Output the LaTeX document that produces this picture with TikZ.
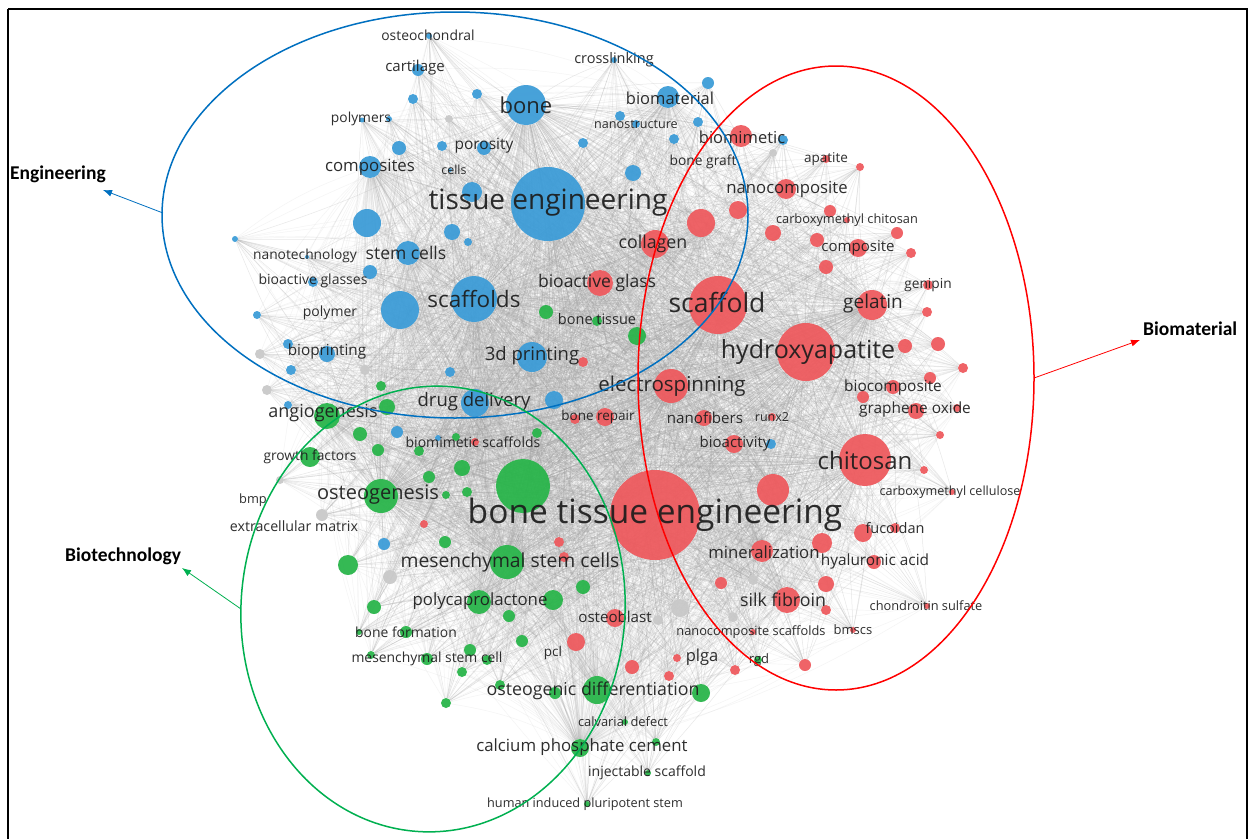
\documentclass[tikz,border=0pt]{standalone}
\usepackage{fontspec}
\setmainfont{Open Sans}
\newfontfamily\headfont{Carlito}
\usetikzlibrary{arrows.meta}
\pgfdeclarelayer{edges}
\pgfsetlayers{edges,main}
\definecolor{cb}{RGB}{58,155,215}
\definecolor{cr}{RGB}{238,88,92}
\definecolor{cg}{RGB}{38,180,72}
\definecolor{ck}{RGB}{200,200,200}
\definecolor{eblue}{RGB}{0,112,192}
\definecolor{ered}{RGB}{255,0,0}
\definecolor{egreen}{RGB}{0,176,80}
\definecolor{labtxt}{RGB}{28,28,28}
\definecolor{edgecol}{RGB}{165,165,165}
\tikzset{
  dot/.style={circle, inner sep=0pt, draw=none, fill opacity=0.93},
  lab/.style={inner sep=0pt, text=labtxt, text opacity=0.92},
  edge/.style={draw=edgecol, line width=0.5pt, opacity=0.26},
  edgelight/.style={draw=edgecol, line width=0.45pt, opacity=0.13},
  clusterline/.style={line width=1.5pt},
  heading/.style={inner sep=0pt, font=\headfont\bfseries\fontsize{19.5}{19.5}\selectfont, anchor=west},
  pointer/.style={line width=0.8pt, -{Latex[length=9pt,width=7pt]}}
}
\def\hublist{bte/655/515/45/r, te/548/204/37/b, scaffold/718/305/29/r, hap/806/352/29/r, chitosan/865/460/26/r, bigg/523/486/27/g, scaffolds/474/299/23/b, bone/526/105/20/b, elec/671/386/17/r, mscs/507/562/17/g, osteogenesis/381/496/17/g, gelatin/872/305/15/r}
\def\dotlist{d400/400/310/19/b, d367/367/223/14/b, stemcells/408/253/12/b, composites/370/167/11/b, biomaterial/668/97/11/b, cartilage/418/70/6/b, osteochondral/429/36/3/b, d413/413/99/5/b, d477/477/94/5/b, polymers/389/119/3/b, pol2/362/120/2.5/b, gk449/449/119/4/k, d399/399/148/7/b, d442/442/146/5/b, porosity/484/148/7/b, cells/450/170/2/b, d472/472/192/10/b, d583/583/143/5/b, crosslinking/614/60/3/b, d708/708/83/6/b, d620/620/116/5/b, nanostructure/636/124/4/b, d698/698/122/5/b, d674/674/139/5/b, d633/633/173/8/b, bmblue/783/140/5/b, d452/452/232/8/b, d468/468/242/4/b, d235/235/239/3/b, nanotech/307/257/2/b, d370/370/272/7/b, bioglasses/313/282/5/b, d257/257/315/4/b, d288/288/344/5/b, bioprinting/327/354/8/b, d291/291/370/5/b, d450b/450/372/5/b, printing/532/357/15/b, drug/475/403/14/b, d554/554/400/9/b, d288b/288/405/4/b, d397/397/432/6/b, d438/438/438/3/b, bioactblue/771/444/5/b, d384/384/544/6/b,
gk260/260/354/5/k, gk365/365/370/5/k, gk267/267/390/5/k, gk280/280/480/4/k, gk322/322/515/6/k, gk390/390/577/7/k, gk680/680/608/9/k, gk733/733/617/5/k, gk658/658/620/5/k, gk753/753/580/5/k, gk773/773/153/4/k,
angio/327/416/13/g, growth/310/457/10/g, poly/479/602/12/g, g553/553/600/10/g, g583/583/587/7/g, odiff/597/690/14/g, g701/701/693/9/g, cpc/580/748/9/g, g637/637/336/9/g, g546/546/312/7/g, bonetissue/597/321/5/g, g381/381/386/5/g, g387/387/407/8/g, g360/360/434/7/g, g456/456/437/4/g, g537/537/433/5/g, g378/378/450/6/g, g419/419/451/5/g, g462/462/468/8/g, g429/429/477/6/g, g467/467/492/5/g, g446/446/495/4/g, g445/445/542/6/g, g348/348/565/10/g, g374/374/607/7/g, g509/509/616/6/g, boneform/406/632/6/g, bf2/359/632/3/g, g522/522/641/6/g, msc/427/659/6/g, g470/470/650/6/g, g487/487/660/5/g, g371/371/655/4/g, g462b/462/672/5/g, g555/555/693/6/g, g500/500/685/5/g, g446b/446/703/5/g, calv/625/722/3/g, g656/656/742/4/g, inject/648/773/3/g, hips/587/804/3/g, rgd/758/660/4/g,
collagen/655/244/14/r, bioglass/600/283/13/r, r701/701/223/14/r, r738/738/210/9/r, biomimetic/741/136/11/r, apatite/826/159/4/r, r860/860/167/4/r, nanocomp/786/189/10/r, r830/830/211/6/r, cmc/847/220/3/r, r773/773/233/8/r, r897/897/233/6/r, r817/817/240/7/r, composite/858/248/9/r, r911/911/253/5/r, r826/826/267/7/r, genipin/928/285/5/r, r927/927/312/5/r, r905/905/346/7/r, r938/938/344/7/r, r963/963/368/5/r, r930/930/378/6/r, biocomp/893/387/7/r, r863/863/397/6/r, graphene/916/411/8/r, r957/957/408/4/r, r940/940/435/4/r, r924/924/470/4/r, cmcell/952/492/3/r, r583/583/362/5/r, bonerepair/605/417/9/r, r575/575/419/5/r, nanofib/704/418/8/r, runx/772/417/4/r, bioactivity/734/444/9/r, bmsr/475/442/4/r, r773b/773/490/16/r, fuc1/863/533/9/r, fucoidan/895/528/5/r, r822/822/543/10/r, mineral/762/551/11/r, hyal/874/562/7/r, r559/559/542/5/r, r564/564/557/5/r, r424/424/524/4/r, r721/721/583/6/r, r826b/826/584/8/r, silk/787/600/13/r, r826c/826/610/5/r, chond/927/606/3/r, osteoblast/615/618/9/r, ncs/753/632/3/r, bmscs/853/630/3/r, pclr/576/642/9/r, plgar/677/658/4/r, r805/805/665/6/r, r735/735/670/5/r, r669/669/676/5/r, r632/632/667/7/r}
\def\lablist{548/203/28/tissue engineering, 526/105/22/bone, 474/299/22.5/scaffolds, 655/515/33.5/bone tissue engineering, 717/302/26.5/scaffold, 808/352/25/hydroxyapatite, 865/460/24/chitosan, 672/386/20.5/electrospinning, 378/495/20/osteogenesis, 510/562/19.3/mesenchymal stem cells, 532/356/18.5/3d printing, 474/402/18.5/drug delivery, 323/413/18/angiogenesis, 406/253/17.5/stem cells, 370/167/16.8/composites, 873/304/19/gelatin, 653/244/17.8/collagen, 783/600/17.8/silk fibroin, 593/691/17.8/osteogenic differentiation, 582/747/16.8/calcium phosphate cement, 480/601/16.8/polycaprolactone, 787/189/16.7/nanocomposite, 670/98/16.5/biomaterial, 597/283/17.5/bioactive glass, 764/552/16.7/mineralization, 875/561/15.4/hyaluronic acid, 893/387/15.4/biocomposite, 915/409/15.4/graphene oxide, 705/418/15.1/nanofibers, 735/444/15/bioactivity, 615/617/15.1/osteoblast, 310/457/13.8/growth factors, 415/68/15/cartilage, 484/146/15.5/porosity, 598/417/13.5/bone repair, 702/657/16.5/plga, 895/528/14.5/fucoidan, 361/119/13.8/polymers, 428/35/13.9/osteochondral, 614/60/14.5/crosslinking, 305/256/13.8/nanotechnology, 313/281/14/bioactive glasses, 330/313/14/polymer, 327/352/15.3/bioprinting, 597/319/14.5/bone tissue, 742/137/16.5/biomimetic, 703/162/13.8/bone graft, 826/159/13.5/apatite, 636/124/12.6/nanostructure, 454/170/12.4/cells, 847/220/12.8/carboxymethyl chitosan, 858/248/15/composite, 928/285/13.7/genipin, 772/417/12.5/runx2, 950/492/12.6/carboxymethyl cellulose, 926/606/12.8/chondroitin sulfate, 853/630/13/bmscs, 751/632/12.8/nanocomposite scaffolds, 759/660/13/rgd, 473/442/14/biomimetic scaffolds, 253/500/12.8/bmp, 294/526/14.2/extracellular matrix, 406/632/13.9/bone formation, 427/659/13.9/mesenchymal stem cell, 553/653/13.5/pcl, 623/722/12.9/calvarial defect, 647/773/14/injectable scaffold, 585/804/12.7/human induced pluripotent stem}
\begin{document}
\begin{tikzpicture}[x=1pt,y=-1pt]
\useasboundingbox (0,0) rectangle (1250,838);
% nodes
\foreach \n/\x/\y/\r/\c in \dotlist {
  \node[dot, fill=c\c, minimum size=2*\r pt] (\n) at (\x,\y) {};
}
\foreach \n/\x/\y/\r/\c in \hublist {
  \node[dot, fill=c\c, minimum size=2*\r pt] (\n) at (\x,\y) {};
}
% edges (behind the nodes)
\begin{pgfonlayer}{edges}
\fill[white] (0,0) rectangle (1250,838);
\foreach \h in {bte,te,scaffold,hap,chitosan,bigg,scaffolds,bone,elec,mscs,osteogenesis,gelatin} {
  \foreach \n/\x/\y/\r/\c in \dotlist {
    \draw[edge] (\h) to[bend left=7] (\n);
  }
}
\foreach \h [count=\i] in {bte,te,scaffold,hap,chitosan,bigg,scaffolds,bone,elec,mscs,osteogenesis,gelatin} {
  \foreach \k [count=\j] in {bte,te,scaffold,hap,chitosan,bigg,scaffolds,bone,elec,mscs,osteogenesis,gelatin} {
    \ifnum\i<\j \draw[edge] (\h) to[bend left=7] (\k); \fi
  }
}
\foreach \h in {collagen,angio,drug,printing,silk,mineral,bioglass,stemcells,composites,odiff,poly,r773b,d400,r701,biomaterial,cpc} {
  \foreach \n/\x/\y/\r/\c in \dotlist {
    \edef\ta{\h}\edef\tb{\n}%
    \ifx\ta\tb\else\draw[edgelight] (\h) to[bend right=9] (\n);\fi
  }
}
\end{pgfonlayer}
% labels
\foreach \x/\y/\s/\t [count=\i] in \lablist {
  \node[lab, font=\fontsize{\s}{\s}\selectfont] (L\i) at (\x,\y) {\t};
}
% cluster ellipses
\draw[clusterline, eblue] (455,215) ellipse [x radius=293, y radius=203];
\draw[clusterline, ered] (836,378) ellipse [x radius=198, y radius=312];
\draw[clusterline, egreen, rotate around={-4:(433,609)}] (433,609) ellipse [x radius=192, y radius=223];
% headings and pointers
\node[heading] (hEng) at (10,174) {Engineering};
\node[heading] (hBiomat) at (1143,329) {Biomaterial};
\node[heading] (hBiotech) at (65,556) {Biotechnology};
\coordinate (engA) at (163,213);
\coordinate (engB) at (103,190);
\coordinate (matA) at (1034,378);
\coordinate (matB) at (1140,340);
\coordinate (tecA) at (241,609);
\coordinate (tecB) at (182,568);
\draw[pointer, eblue] (engA) -- (engB);
\draw[pointer, ered] (matA) -- (matB);
\draw[pointer, egreen] (tecA) -- (tecB);
% frame
\draw[line width=1.8pt, black] (8,9) -- (1247,9) -- (1247,840);
\draw[line width=1.8pt, black] (8,9) -- (8,840);
\end{tikzpicture}
\end{document}
